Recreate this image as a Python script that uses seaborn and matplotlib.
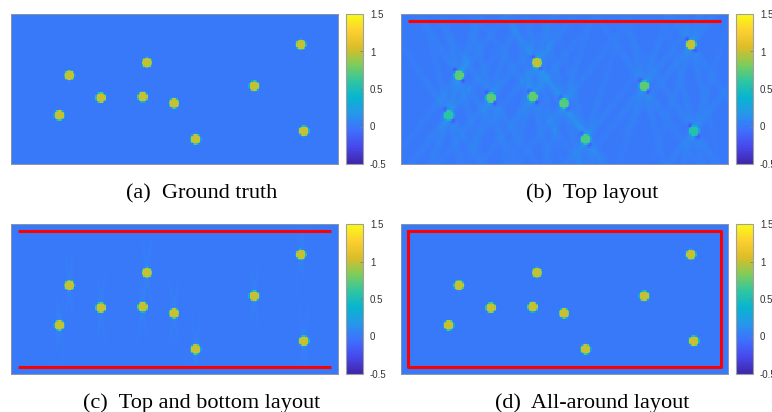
import numpy as np
import seaborn as sns
from matplotlib import pyplot as plt
from matplotlib.colors import LinearSegmentedColormap

# 目标位置（归一化坐标：x 向右，y 自上而下）
dot_x = [0.178, 0.415, 0.274, 0.402, 0.498, 0.147, 0.564, 0.743, 0.886, 0.895]
dot_y = [0.407, 0.322, 0.556, 0.551, 0.593, 0.673, 0.833, 0.478, 0.202, 0.778]

# 各子图中目标的重建值
vals_truth = [1.0, 1.0, 1.0, 1.0, 1.0, 1.0, 1.0, 1.0, 1.0, 1.0]
vals_top = [0.72, 0.95, 0.74, 0.76, 0.70, 0.58, 0.68, 0.74, 1.0, 0.55]
vals_topbot = [1.0, 1.0, 1.0, 1.0, 1.0, 1.0, 1.0, 1.0, 1.0, 1.0]
vals_around = [1.0, 1.0, 1.0, 1.0, 1.0, 1.0, 1.0, 1.0, 1.0, 1.0]

# 伪影：条纹角度（相对竖直方向，度）与幅值
streak_angles_top = [-38, -18, 14, 34]
streak_amp_top = 0.07
streak_angles_topbot = [-7, 7]
streak_amp_topbot = 0.05

cbar_ticks = [-0.5, 0, 0.5, 1, 1.5]
cbar_labels = ['-0.5', '0', '0.5', '1', '1.5']
titles = ['(a)  Ground truth', '(b)  Top layout',
          '(c)  Top and bottom layout', '(d)  All-around layout']

# parula 近似
parula = LinearSegmentedColormap.from_list('parula', [
    (0.2422, 0.1504, 0.6603), (0.2803, 0.2782, 0.9221), (0.2440, 0.4358, 0.9988),
    (0.1540, 0.5902, 0.9218), (0.0297, 0.7082, 0.8163), (0.1938, 0.7758, 0.6251),
    (0.5044, 0.7993, 0.3480), (0.8634, 0.7406, 0.1596), (0.9892, 0.8136, 0.1885),
    (0.9769, 0.9839, 0.0805)])

NY, NX = 100, 218
R = 3.4
yy, xx = np.mgrid[0:NY, 0:NX] + 0.5


def make_field(values, angles=None, amp=0.0, decay=60.0, width=1.2, lobes=False):
    f = np.zeros((NY, NX))
    for x0, y0, v in zip(dot_x, dot_y, values):
        cx, cy = x0 * NX, y0 * NY
        dx, dy = xx - cx, yy - cy
        d = np.hypot(dx, dy)
        if angles:
            for a in angles:
                t = np.deg2rad(a)
                along = dx * np.sin(t) + dy * np.cos(t)
                perp = dx * np.cos(t) - dy * np.sin(t)
                f += amp * np.exp(-perp ** 2 / (2 * width ** 2)) * np.exp(-np.abs(along) / decay)
        if lobes:
            for ox, oy in [(-2.4, -3.8), (2.4, 3.8)]:
                f -= 0.3 * np.exp(-((dx - ox) ** 2 + (dy - oy) ** 2) / (2 * 1.2 ** 2))
        m = np.clip(R + 0.5 - d, 0, 1)
        f = f * (1 - m) + v * m
    return f


fields = [
    make_field(vals_truth),
    make_field(vals_top, streak_angles_top, streak_amp_top, 40.0, 1.6, lobes=True),
    make_field(vals_topbot, streak_angles_topbot, streak_amp_topbot, 14.0, 0.8),
    make_field(vals_around),
]

plt.rcParams['axes.unicode_minus'] = False
W, H = 772, 412
fig = plt.figure(figsize=(W / 100, H / 100), dpi=100)


def px_axes(x0, y0, x1, y1):
    return fig.add_axes([x0 / W, 1 - y1 / H, (x1 - x0) / W, (y1 - y0) / H])


offsets = [(0, 0), (390, 0), (0, 210), (390, 210)]
for k, (f, (ox, oy)) in enumerate(zip(fields, offsets)):
    ax = px_axes(ox + 11, oy + 14, ox + 338, oy + 164)
    cax = px_axes(ox + 346, oy + 14, ox + 363, oy + 164)
    sns.heatmap(f, ax=ax, cmap=parula, vmin=-0.5, vmax=1.5, cbar_ax=cax,
                xticklabels=False, yticklabels=False, rasterized=True)
    ax.set_xticks([])
    ax.set_yticks([])
    for s in ax.spines.values():
        s.set_visible(True)
        s.set_color('#8a94a6')
        s.set_linewidth(0.7)

    # 换能器布局（红线）
    xl, xr = 0.020 * NX, 0.978 * NX
    yt, yb = 0.047 * NY, 0.951 * NY
    if k == 1:
        ax.plot([xl, xr], [yt, yt], color='red', lw=2.2, solid_capstyle='butt')
    elif k == 2:
        ax.plot([xl, xr], [yt, yt], color='red', lw=2.2, solid_capstyle='butt')
        ax.plot([xl, xr], [yb, yb], color='red', lw=2.2, solid_capstyle='butt')
    elif k == 3:
        ax.plot([xl, xr, xr, xl, xl], [yt, yt, yb, yb, yt], color='red', lw=2.2)

    cb = ax.collections[0].colorbar
    cb.set_ticks(cbar_ticks)
    cb.set_ticklabels(cbar_labels)
    cb.outline.set_edgecolor('#a0a0a0')
    cb.outline.set_linewidth(0.8)
    cax.tick_params(direction='in', length=2.5, width=0.6, color='#808080',
                    labelsize=7, labelcolor='#333333', pad=5)
    for t in cax.get_yticklabels():
        t.set_family('Liberation Sans')

    fig.text((ox + 202) / W, 1 - (oy + 198) / H, titles[k], ha='center',
             va='baseline', fontsize=16, family='Liberation Serif')

fig.savefig('out.png', dpi=100)
